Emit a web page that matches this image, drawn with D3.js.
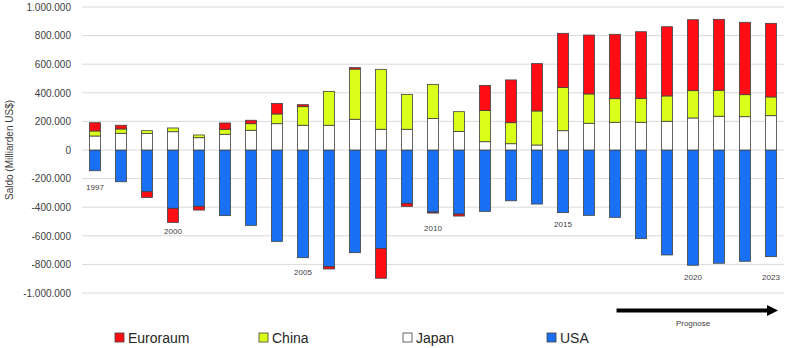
<!DOCTYPE html>
<html>
<head>
<meta charset="utf-8">
<script src="https://cdn.jsdelivr.net/npm/d3@7"></script>
<style>
  body { margin: 0; background: #fff; }
  text { font-family: "Liberation Sans", Arial, sans-serif; }
  .grid line { stroke: #d9d9d9; stroke-width: 1; }
  .bar { stroke: #404040; stroke-width: 0.8; }
</style>
</head>
<body>
<div id="saldo-vis"></div>
<script>
// Leistungsbilanzsalden, 1997 - 2023 (ab 2018 Prognose)
var years = d3.range(1997, 2024);
var seriesKeys = ['USA', 'Japan', 'China', 'Euroraum'];
var legendKeys = ['Euroraum', 'China', 'Japan', 'USA'];

var usa = [-145000, -222000, -292000, -408000, -394000, -459000, -527000, -639000, -753000, -816000,
  -718000, -688000, -373000, -434000, -448000, -429000, -355000, -378000, -438000, -457000,
  -471000, -620000, -734000, -806000, -792000, -778000, -746000];
var japan = [98000, 117000, 115000, 128000, 86000, 110000, 138000, 184000, 173000, 173000,
  215000, 145000, 145000, 221000, 130000, 58000, 44000, 35000, 135000, 187000,
  194000, 194000, 201000, 224000, 236000, 233000, 240000];
var china = [35000, 30000, 20000, 26000, 19000, 35000, 46000, 68000, 130000, 237000,
  351000, 419000, 244000, 238000, 138000, 219000, 147000, 238000, 303000, 205000,
  165000, 167000, 177000, 191000, 181000, 154000, 131000];
var euro = [58000, 26000, -40000, -98000, -26000, 44000, 24000, 74000, 14000, -16000,
  10000, -209000, -21000, -7000, -14000, 175000, 299000, 331000, 378000, 412000,
  450000, 466000, 484000, 496000, 497000, 506000, 515000];

// years that get a label under the bar, and where that label sits (in data units)
var labelYears = [1997, 2000, 2005, 2010, 2015, 2020, 2023];
var labelValues = [-257000, -566000, -858000, -545000, -517000, -893000, -888000];

var yTicks = [-1000000, -800000, -600000, -400000, -200000, 0, 200000, 400000, 600000, 800000, 1000000];

var colors = {
  'Euroraum': '#ff0d14',
  'China': '#dcff1a',
  'Japan': '#ffffff',
  'USA': '#1a70f2'
};

var deLocale = d3.formatLocale({
  decimal: ',',
  thousands: '.',
  grouping: [3],
  currency: ['', ' €'],
  minus: '-'
});
var formatSaldo = deLocale.format(',.0f');

SaldoVis = function(_parentElement) {
  this.parentElement = _parentElement;
  this.data = years.map((yr, i) => ({
    year: yr,
    USA: usa[i],
    Japan: japan[i],
    China: china[i],
    Euroraum: euro[i]
  }));
  this.initVis();
};

SaldoVis.prototype.initVis = function() {
  var vis = this;

  vis.width = 785;
  vis.height = 348;

  vis.svg = d3.select('#' + vis.parentElement).append('svg')
      .attr('width', vis.width)
      .attr('height', vis.height);

  vis.x = d3.scaleBand()
      .domain(years)
      .range([82, 784])
      .paddingInner(0.58)
      .paddingOuter(0.29);
  vis.y = d3.scaleLinear()
      .domain([-1000000, 1000000])
      .range([293, 7]);

  // Gridlines
  vis.svg.append('g').attr('class', 'grid')
    .selectAll('line')
    .data(yTicks)
    .enter().append('line')
      .attr('x1', 82)
      .attr('x2', 784)
      .attr('y1', d => vis.y(d))
      .attr('y2', d => vis.y(d));

  // Y axis labels (no domain line)
  var yAxis = d3.axisLeft(vis.y)
      .tickValues(yTicks)
      .tickFormat(formatSaldo)
      .tickSize(0)
      .tickPadding(0);
  var gY = vis.svg.append('g')
      .attr('transform', 'translate(71,0)')
      .call(yAxis);
  gY.select('.domain').remove();
  gY.selectAll('text')
      .attr('fill', '#404040')
      .style('font-size', '10px')
      .style('font-family', '"Liberation Sans", Arial, sans-serif');

  vis.svg.append('text')
      .attr('transform', 'translate(13,' + vis.y(0) + ') rotate(-90)')
      .attr('text-anchor', 'middle')
      .attr('fill', '#404040')
      .style('font-size', '10px')
      .text('Saldo (Milliarden US$)');

  vis.stack = d3.stack()
      .keys(seriesKeys)
      .offset(d3.stackOffsetDiverging);

  vis.drawVis();
};

SaldoVis.prototype.drawVis = function() {
  var vis = this;

  var stacked = vis.stack(vis.data);

  var layers = vis.svg.append('g').attr('class', 'bars')
    .selectAll('g')
    .data(stacked)
    .enter().append('g')
      .attr('fill', d => colors[d.key]);

  layers.selectAll('rect')
      .data(d => d)
      .enter().append('rect')
        .attr('class', 'bar')
        .attr('x', d => vis.x(d.data.year))
        .attr('width', vis.x.bandwidth())
        .attr('y', d => vis.y(Math.max(d[0], d[1])))
        .attr('height', d => Math.abs(vis.y(d[0]) - vis.y(d[1])));

  // year labels under selected bars
  vis.svg.append('g')
    .selectAll('text')
    .data(labelYears)
    .enter().append('text')
      .attr('x', d => vis.x(d) + vis.x.bandwidth() / 2)
      .attr('y', (d, i) => vis.y(labelValues[i]))
      .attr('dy', '0.35em')
      .attr('text-anchor', 'middle')
      .attr('fill', '#404040')
      .style('font-size', '8px')
      .text(d => d);

  vis.drawPrognose();
  vis.drawLegend();
};

SaldoVis.prototype.drawPrognose = function() {
  var vis = this;
  var xStart = vis.x(2018) - 19;
  var xEnd = 778;
  var yArrow = 310.5;

  var g = vis.svg.append('g');
  g.append('line')
      .attr('x1', xStart)
      .attr('x2', xEnd - 9)
      .attr('y1', yArrow)
      .attr('y2', yArrow)
      .attr('stroke', '#000')
      .attr('stroke-width', 4);
  g.append('path')
      .attr('d', d3.line()([[xEnd - 11, yArrow - 5.5], [xEnd, yArrow], [xEnd - 11, yArrow + 5.5]]) + 'Z')
      .attr('fill', '#000');
  g.append('text')
      .attr('x', 693)
      .attr('y', 323)
      .attr('dy', '0.35em')
      .attr('text-anchor', 'middle')
      .attr('fill', '#404040')
      .style('font-size', '8px')
      .text('Prognose');
};

SaldoVis.prototype.drawLegend = function() {
  var vis = this;

  var items = vis.svg.append('g').attr('class', 'legend')
    .selectAll('g')
    .data(legendKeys)
    .enter().append('g')
      .attr('transform', (d, i) => 'translate(' + (115 + i * 144) + ',333)');

  items.append('rect')
      .attr('width', 9)
      .attr('height', 9)
      .attr('fill', d => colors[d])
      .attr('stroke', '#404040')
      .attr('stroke-width', 0.8);

  items.append('text')
      .attr('x', 13)
      .attr('y', 4.5)
      .attr('dy', '0.36em')
      .attr('fill', '#262626')
      .style('font-size', '14px')
      .text(d => d);
};

new SaldoVis('saldo-vis');
</script>
</body>
</html>
